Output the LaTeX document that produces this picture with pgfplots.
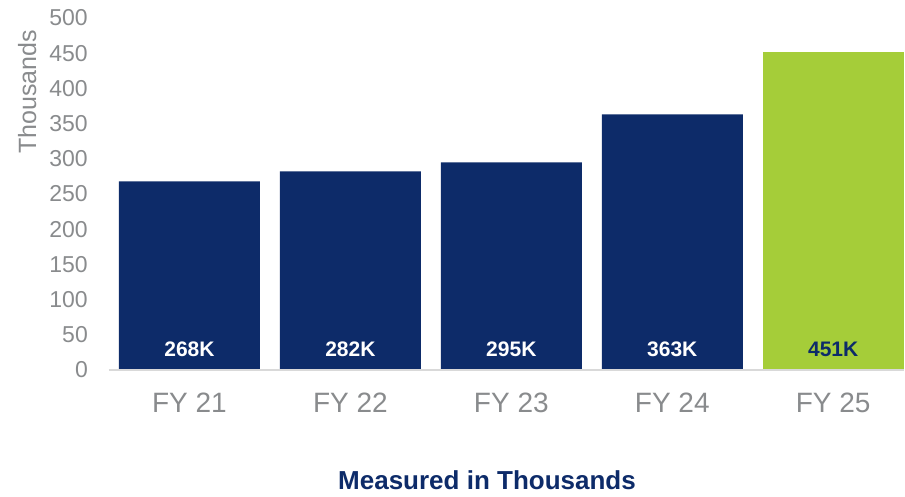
\documentclass[border=0pt]{standalone}
\usepackage{pgfplots}
\pgfplotsset{compat=1.18}
\usepackage{fontspec}
\setmainfont{Liberation Sans}
\definecolor{navy}{RGB}{13,43,105}
\definecolor{lime}{RGB}{165,205,57}
\definecolor{tickgray}{RGB}{137,139,141}
\definecolor{basegray}{RGB}{217,217,217}
\begin{document}
\begin{tikzpicture}
\begin{axis}[name=ax, scale only axis, width=795pt, height=352pt,
 xmin=-0.5, xmax=4.44, ymin=0, ymax=500,
 ybar, bar width=141pt,
 axis line style={draw=none}, tick style={draw=none}, major tick length=0pt,
 xtick={0,...,4}, xticklabels={FY 21,FY 22,FY 23,FY 24,FY 25},
 ytick={0,50,...,500},
 /pgf/number format/assume math mode=true,
 xticklabel style={font=\fontsize{28}{28}\selectfont, text=tickgray, inner sep=0pt, anchor=north, yshift=-23pt},
 yticklabel style={font=\fontsize{23}{23}\selectfont, text=tickgray, inner sep=0pt, anchor=east, xshift=-21pt},
 clip=false,
]
\addplot[fill=navy, draw=none, bar shift=0pt] coordinates {(0,268) (1,282) (2,295) (3,363)};
\addplot[fill=lime, draw=none, bar shift=0pt] coordinates {(4,451)};
\draw[basegray, line width=1.5pt] (rel axis cs:0,0) -- (rel axis cs:1,0);
\node[font=\bfseries\fontsize{21}{21}\selectfont, text=white] at (axis cs:0,30) {268K};
\node[font=\bfseries\fontsize{21}{21}\selectfont, text=white] at (axis cs:1,30) {282K};
\node[font=\bfseries\fontsize{21}{21}\selectfont, text=white] at (axis cs:2,30) {295K};
\node[font=\bfseries\fontsize{21}{21}\selectfont, text=white] at (axis cs:3,30) {363K};
\node[font=\bfseries\fontsize{21}{21}\selectfont, text=navy] at (axis cs:4,30) {451K};
\node[rotate=90, font=\fontsize{25}{25}\selectfont, text=tickgray, inner sep=0pt] at (rel axis cs:-0.103,0.79) {Thousands};
\node[font=\bfseries\fontsize{26}{26}\selectfont, text=navy, inner sep=0pt] at (rel axis cs:0.4755,-0.3125) {Measured in Thousands};
\end{axis}
\pgfresetboundingbox
\path (ax.south west) ++(-109pt,-126pt) rectangle ++(905pt,496pt);
\end{tikzpicture}
\end{document}
